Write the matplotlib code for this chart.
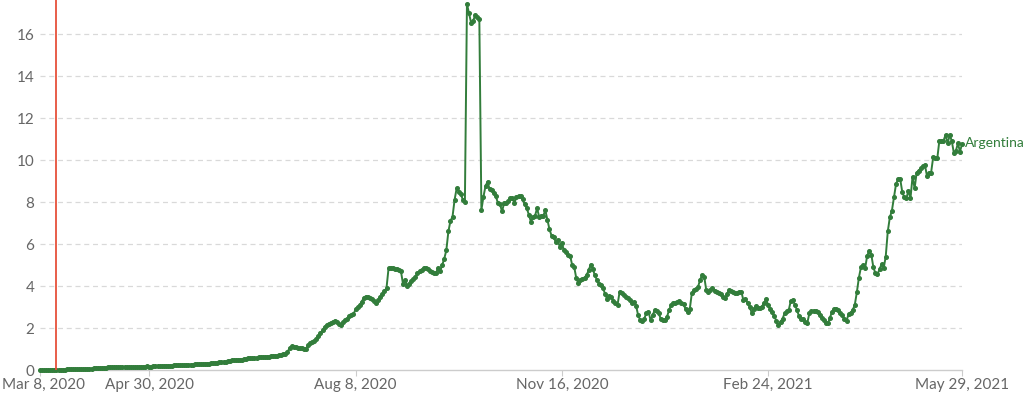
import matplotlib
matplotlib.use("Agg")
import matplotlib.pyplot as plt
import pandas as pd

plt.rcParams['font.family'] = ['Lato', 'DejaVu Sans']

country = "Argentina"
start_date = "2020-03-08"
marker_date = "2020-03-16"
tick_dates = ["2020-03-08", "2020-04-30", "2020-08-08", "2020-11-16", "2021-02-24", "2021-05-29"]
tick_labels = ["Mar 8, 2020", "Apr 30, 2020", "Aug 8, 2020", "Nov 16, 2020", "Feb 24, 2021", "May 29, 2021"]
y_ticks = [0, 2, 4, 6, 8, 10, 12, 14, 16]

values = [
    0.00, 0.00, 0.00, 0.01, 0.01, 0.01, 0.01, 0.01, 0.01, 0.02,
    0.02, 0.02, 0.02, 0.03, 0.03, 0.03, 0.03, 0.04, 0.04, 0.04,
    0.05, 0.05, 0.06, 0.06, 0.07, 0.07, 0.08, 0.08, 0.09, 0.09,
    0.10, 0.11, 0.11, 0.12, 0.12, 0.12, 0.13, 0.12, 0.12, 0.12,
    0.13, 0.13, 0.14, 0.14, 0.15, 0.14, 0.14, 0.15, 0.15, 0.16,
    0.16, 0.16, 0.17, 0.16, 0.16, 0.17, 0.18, 0.18, 0.19, 0.19,
    0.20, 0.21, 0.20, 0.20, 0.21, 0.22, 0.22, 0.22, 0.23, 0.24,
    0.24, 0.25, 0.25, 0.26, 0.26, 0.27, 0.28, 0.28, 0.28, 0.29,
    0.29, 0.30, 0.30, 0.31, 0.32, 0.33, 0.35, 0.37, 0.38, 0.39,
    0.40, 0.42, 0.44, 0.46, 0.47, 0.48, 0.49, 0.50, 0.50, 0.52,
    0.53, 0.55, 0.56, 0.57, 0.58, 0.59, 0.60, 0.60, 0.61, 0.62,
    0.63, 0.64, 0.65, 0.66, 0.67, 0.68, 0.70, 0.72, 0.74, 0.78,
    0.85, 1.05, 1.12, 1.10, 1.08, 1.06, 1.05, 1.04, 1.02, 1.00,
    1.20, 1.30, 1.35, 1.40, 1.50, 1.60, 1.75, 1.90, 2.05, 2.15,
    2.20, 2.25, 2.30, 2.35, 2.30, 2.20, 2.15, 2.30, 2.40, 2.45,
    2.55, 2.60, 2.65, 2.90, 3.00, 3.10, 3.25, 3.45, 3.50, 3.48,
    3.45, 3.40, 3.30, 3.20, 3.35, 3.50, 3.60, 3.75, 3.90, 4.85,
    4.88, 4.85, 4.82, 4.80, 4.75, 4.70, 4.10, 4.30, 4.00, 4.10,
    4.25, 4.35, 4.45, 4.60, 4.70, 4.75, 4.87, 4.85, 4.80, 4.72,
    4.68, 4.62, 4.60, 4.87, 4.70, 5.00, 5.30, 5.70, 6.60, 7.10,
    7.30, 8.10, 8.65, 8.50, 8.40, 8.10, 8.00, 17.43, 16.98, 16.54,
    16.63, 16.90, 16.80, 16.70, 7.62, 8.25, 8.76, 8.97, 8.60, 8.56,
    8.42, 8.28, 7.95, 7.90, 7.55, 7.94, 7.94, 8.05, 8.17, 8.21,
    7.94, 8.25, 8.28, 8.28, 8.12, 7.90, 7.70, 7.40, 7.06, 7.30,
    7.35, 7.70, 7.30, 7.32, 7.35, 7.60, 7.15, 6.70, 6.40, 6.35,
    6.10, 6.19, 5.87, 6.06, 5.71, 5.60, 5.50, 5.45, 5.00, 4.90,
    4.37, 4.13, 4.29, 4.35, 4.40, 4.52, 4.75, 5.02, 4.79, 4.52,
    4.29, 4.10, 4.05, 3.90, 3.60, 3.37, 3.52, 3.46, 3.30, 3.18,
    3.10, 3.73, 3.65, 3.55, 3.49, 3.42, 3.35, 3.17, 3.25, 3.05,
    2.60, 2.38, 2.34, 2.45, 2.73, 2.78, 2.38, 2.60, 2.85, 2.80,
    2.70, 2.41, 2.40, 2.38, 2.54, 2.86, 3.10, 3.20, 3.20, 3.25,
    3.30, 3.17, 3.12, 2.90, 2.78, 2.89, 3.65, 3.80, 3.85, 3.95,
    4.29, 4.52, 4.45, 3.81, 3.73, 3.80, 3.89, 3.78, 3.70, 3.65,
    3.60, 3.50, 3.41, 3.60, 3.81, 3.75, 3.70, 3.65, 3.65, 3.70,
    3.73, 3.33, 3.36, 3.20, 3.02, 2.73, 2.90, 3.05, 2.96, 2.96,
    3.02, 3.20, 3.36, 3.10, 2.90, 2.75, 2.55, 2.35, 2.14, 2.30,
    2.45, 2.70, 2.80, 2.86, 3.30, 3.33, 3.10, 2.86, 2.55, 2.45,
    2.41, 2.30, 2.25, 2.70, 2.80, 2.83, 2.80, 2.75, 2.62, 2.50,
    2.38, 2.22, 2.22, 2.50, 2.78, 2.90, 2.92, 2.86, 2.72, 2.60,
    2.45, 2.35, 2.65, 2.73, 2.86, 3.10, 3.70, 4.40, 4.90, 5.00,
    4.84, 5.43, 5.68, 5.50, 4.90, 4.60, 4.57, 4.79, 5.05, 4.84,
    5.40, 6.60, 7.27, 7.59, 8.22, 8.86, 9.08, 9.11, 8.49, 8.22,
    8.17, 8.54, 8.17, 9.21, 8.65, 9.40, 9.50, 9.60, 9.71, 9.76,
    9.24, 9.40, 9.40, 10.13, 10.08, 10.08, 10.92, 10.92, 10.92, 11.19,
    10.79, 11.19, 10.92, 10.35, 10.44, 10.79, 10.40, 10.76,
]

dates = pd.date_range(start_date, periods=len(values), freq="D")

line_color = "#327d3b"
red = "#e6503a"
grid_color = "#d9d9d9"
text_color = "#666666"

fig = plt.figure(figsize=(10.24, 3.97), dpi=100)
ax = fig.add_axes([0.039, 0.068, 0.9005, 0.932])

ax.plot(dates, values, color=line_color, lw=1.4, marker='o', ms=2.6,
        mec=line_color, mfc=line_color, zorder=3, clip_on=False)

ax.axvline(pd.Timestamp(marker_date), color=red, lw=1.3, zorder=4)

ax.set_xlim(pd.Timestamp(tick_dates[0]), pd.Timestamp(tick_dates[-1]))
ax.set_ylim(0, 17.62)

ax.set_yticks(y_ticks)
ax.set_yticklabels([str(v) for v in y_ticks])
for v in y_ticks[1:]:
    ax.axhline(v, color=grid_color, lw=0.9, ls=(0, (4, 3)), zorder=1)

# x ticks (marks only); labels drawn as text so the first one can sit inside the figure
ax.set_xticks([pd.Timestamp(d) for d in tick_dates])
ax.set_xticklabels([])
for i, (d, lab) in enumerate(zip(tick_dates, tick_labels)):
    dx = 4 if i == 0 else 0
    ax.annotate(lab, xy=(pd.Timestamp(d), 0), xycoords=('data', 'axes fraction'),
                xytext=(dx, -8), textcoords='offset pixels',
                ha='center', va='top', fontsize=11, color=text_color,
                annotation_clip=False)

for s in ['top', 'right', 'left']:
    ax.spines[s].set_visible(False)
ax.spines['bottom'].set_color('#cccccc')
ax.spines['bottom'].set_linewidth(1.0)

ax.tick_params(axis='y', length=0, labelsize=11, labelcolor=text_color, pad=4)
ax.tick_params(axis='x', length=4, color='#cccccc')

ax.text(dates[-1] + pd.Timedelta(days=1.5), values[-1] + 0.05, country,
        color=line_color, fontsize=10, va='center', ha='left', clip_on=False)

fig.savefig("out.png", dpi=100)
